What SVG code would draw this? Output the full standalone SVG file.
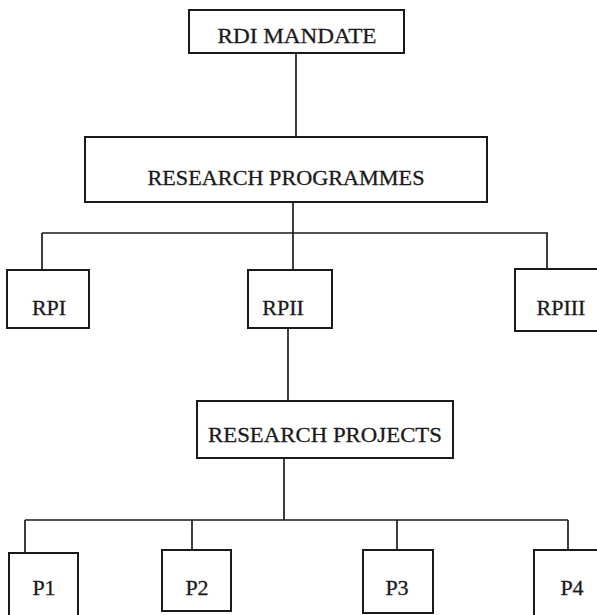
<svg xmlns="http://www.w3.org/2000/svg" width="597" height="615" viewBox="0 0 597 615">
  <style>
    .box { fill: #ffffff; stroke: #1a1a1a; stroke-width: 2; }
    .lbl { font-family: "Liberation Serif", "DejaVu Serif", serif; font-size: 22px; fill: #1a1a1a; stroke: #1a1a1a; stroke-width: 0.3; text-anchor: middle; }
    .wire { fill: none; stroke: #1a1a1a; stroke-width: 1.7; }
  </style>
  <rect width="597" height="615" fill="#ffffff"/>

  <g id="connectors">
    <path class="wire" d="M296,53 V137"/>
    <path class="wire" d="M293,202 V233"/>
    <path class="wire" d="M42,233 H548"/>
    <path class="wire" d="M42,233 V270"/>
    <path class="wire" d="M293,233 V270"/>
    <path class="wire" d="M547,233 V269"/>
    <path class="wire" d="M288,328 V401"/>
    <path class="wire" d="M284,458 V520"/>
    <path class="wire" d="M25,520 H568"/>
    <path class="wire" d="M25,520 V553"/>
    <path class="wire" d="M192,520 V550"/>
    <path class="wire" d="M397,520 V550"/>
    <path class="wire" d="M568,520 V550"/>
  </g>

  <g id="rdi-mandate">
    <rect class="box" x="189" y="10" width="215" height="43"/>
    <text class="lbl" x="297" y="43" textLength="159" lengthAdjust="spacingAndGlyphs">RDI MANDATE</text>
  </g>

  <g id="research-programmes">
    <rect class="box" x="85" y="137" width="402" height="65"/>
    <text class="lbl" x="286" y="185" textLength="277" lengthAdjust="spacingAndGlyphs">RESEARCH PROGRAMMES</text>
  </g>

  <g id="rpi">
    <rect class="box" x="7" y="270" width="82" height="58"/>
    <text class="lbl" x="49" y="315">RPI</text>
  </g>

  <g id="rpii">
    <rect class="box" x="248" y="270" width="84" height="58"/>
    <text class="lbl" x="283" y="315">RPII</text>
  </g>

  <g id="rpiii">
    <rect class="box" x="515" y="269" width="86" height="62"/>
    <text class="lbl" x="561" y="315">RPIII</text>
  </g>

  <g id="research-projects">
    <rect class="box" x="197" y="401" width="256" height="57"/>
    <text class="lbl" x="325" y="442" textLength="234" lengthAdjust="spacingAndGlyphs">RESEARCH PROJECTS</text>
  </g>

  <g id="p1">
    <rect class="box" x="9" y="553" width="69" height="70"/>
    <text class="lbl" x="44" y="595">P1</text>
  </g>

  <g id="p2">
    <rect class="box" x="162" y="550" width="69" height="61"/>
    <text class="lbl" x="197" y="595">P2</text>
  </g>

  <g id="p3">
    <rect class="box" x="363" y="550" width="70" height="63"/>
    <text class="lbl" x="397" y="595">P3</text>
  </g>

  <g id="p4">
    <rect class="box" x="534" y="550" width="70" height="70"/>
    <text class="lbl" x="572" y="595">P4</text>
  </g>
</svg>
